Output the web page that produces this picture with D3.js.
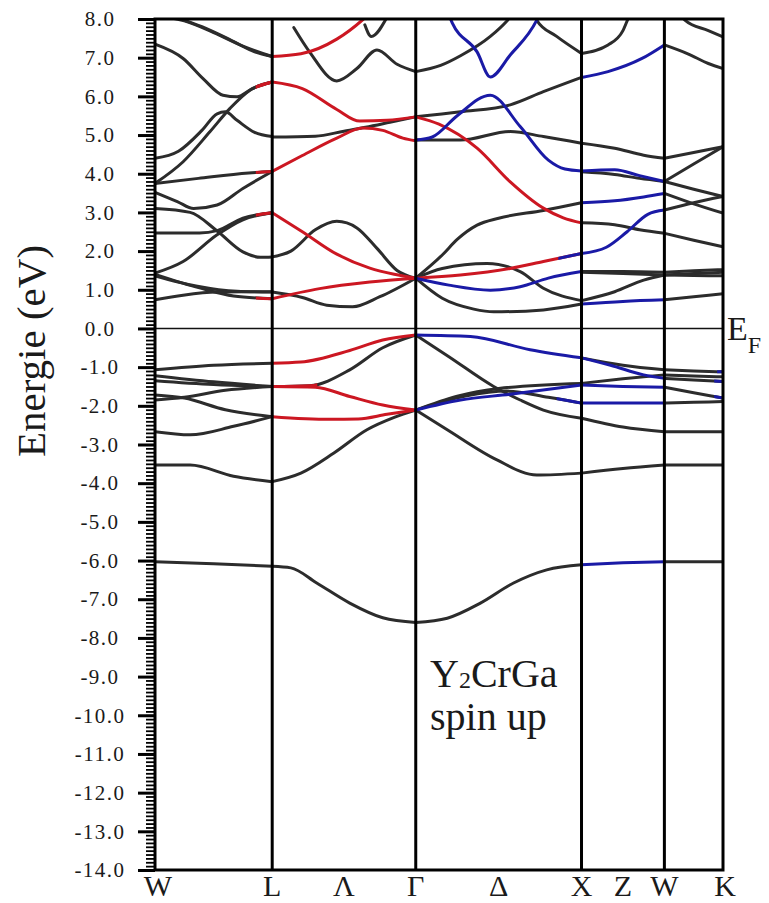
<!DOCTYPE html>
<html><head><meta charset="utf-8">
<script src="https://cdn.jsdelivr.net/npm/d3@7"></script>
<style>
html,body{margin:0;padding:0;background:#fff;}
svg{display:block;}
</style></head><body>
<svg id="chart" width="769" height="903"></svg>
<script>
// ---- k-path (high-symmetry points) ----
const kLabels = ["W", "L", "Λ", "Γ", "Δ", "X", "Z", "W", "K"];
const kLabelPos = [0, 0.7071, 1.1401, 1.5731, 2.0731, 2.5731, 2.8231, 3.0731, 3.4267];
const kNodes = [0, 0.7071, 1.5731, 2.5731, 3.0731, 3.4267]; // W L Γ X W K

// ---- energy axis ----
const energyDomain = [-14, 8];
const energyTicks = d3.range(-14, 9, 1);
const energyMinorTicks = d3.range(-140, 81, 1).map(i => i / 10);

// ---- bands: [colour, [[t within segment, E(eV)], ...], optional [t0, t1, colour]] ----
const bandsWL = [
  ["k", [[0,8.1],[0.25,7.95],[0.5,7.65],[0.75,7.3],[1,7.03]]],
  ["k", [[0.12,8.1],[0.4,7.8],[0.65,7.45],[0.85,7.15],[1,7.03]]],
  ["k", [[0,7.35],[0.24,6.98],[0.41,6.46],[0.58,6.03],[0.7,5.99],[0.83,6.2],[1,6.37]], [0.86,1,"r"]],
  ["k", [[0,3.75],[0.24,4.31],[0.47,5.09],[0.64,5.69],[0.81,6.16],[1,6.37]], [0.86,1,"r"]],
  ["k", [[0,4.4],[0.2,4.58],[0.4,5.12],[0.53,5.55],[0.6,5.6],[0.7,5.38],[0.85,5.07],[1,4.96]]],
  ["k", [[0,3.75],[0.37,3.88],[0.8,4.02],[1,4.06]], [0.86,1,"r"]],
  ["k", [[0,3.52],[0.19,3.28],[0.33,3.1],[0.53,3.19],[0.75,3.62],[1,4.06]]],
  ["k", [[0,3.1],[0.3,3.0],[0.53,2.52],[0.75,1.98],[0.9,1.84],[1,1.85]]],
  ["k", [[0,2.47],[0.38,2.47],[0.53,2.53],[0.75,2.85],[1,2.99]], [0.86,1,"r"]],
  ["k", [[0,1.43],[0.24,1.73],[0.53,2.42],[0.75,2.81],[1,2.99]]],
  ["k", [[0,1.4],[0.38,1.05],[0.67,0.84],[1,0.77]], [0.86,1,"r"]],
  ["k", [[0,1.36],[0.35,1.1],[0.7,0.96],[1,0.94]]],
  ["k", [[0,0.74],[0.24,0.86],[0.53,0.94],[1,0.95]]],
  ["k", [[0,-1.07],[0.5,-0.95],[1,-0.9]]],
  ["k", [[0,-1.22],[0.5,-1.38],[1,-1.5]]],
  ["k", [[0,-1.35],[0.5,-1.45],[1,-1.5]]],
  ["k", [[0,-1.85],[0.25,-1.78],[0.6,-1.6],[1,-1.5]]],
  ["k", [[0,-1.72],[0.25,-1.8],[0.6,-2.1],[1,-2.28]]],
  ["k", [[0,-2.67],[0.3,-2.75],[0.67,-2.53],[1,-2.28]]],
  ["k", [[0,-3.53],[0.3,-3.53],[0.67,-3.82],[1,-3.96]]],
  ["k", [[0,-6.03],[0.5,-6.08],[1,-6.15]]]
];

const bandsLG = [
  ["r", [[0,7.03],[0.2,7.1],[0.45,7.48],[0.63,7.98],[0.72,8.3]]],
  ["k", [[0.15,7.78],[0.26,7.15],[0.45,6.4],[0.59,6.72],[0.73,7.2],[0.87,6.83],[1,6.64]]],
  ["k", [[0.645,7.85],[0.69,7.55],[0.8,8.05]]],
  ["k", [[0,4.95],[0.3,4.97],[0.5,5.1],[0.65,5.2],[0.82,5.33],[1,5.47]]],
  ["r", [[0,6.37],[0.21,6.2],[0.45,5.66],[0.61,5.36],[0.8,5.38],[1,5.47]]],
  ["r", [[0,4.06],[0.21,4.47],[0.45,4.92],[0.63,5.18],[0.77,5.12],[0.91,4.92],[1,4.85]]],
  ["k", [[0,1.85],[0.13,2.0],[0.3,2.55],[0.45,2.77],[0.59,2.6],[0.73,2.07],[0.87,1.5],[1,1.3]]],
  ["k", [[0,0.94],[0.21,0.8],[0.38,0.6],[0.56,0.56],[0.75,0.82],[1,1.3]]],
  ["r", [[0,2.99],[0.21,2.5],[0.45,1.92],[0.68,1.56],[0.85,1.4],[1,1.3]]],
  ["r", [[0,0.77],[0.33,1.03],[0.68,1.2],[1,1.3]]],
  ["k", [[0,-1.5],[0.26,-1.48],[0.54,-1.07],[0.77,-0.5],[1,-0.17]], [0,0.3,"r"]],
  ["k", [[0,-3.96],[0.2,-3.74],[0.43,-3.22],[0.66,-2.62],[0.85,-2.3],[1,-2.11]]],
  ["k", [[0,-6.15],[0.13,-6.19],[0.31,-6.58],[0.54,-7.1],[0.77,-7.48],[1,-7.6]]],
  ["r", [[0,-0.9],[0.2,-0.87],[0.54,-0.57],[0.77,-0.3],[1,-0.17]]],
  ["r", [[0,-1.5],[0.3,-1.52],[0.54,-1.76],[0.77,-1.98],[1,-2.11]]],
  ["r", [[0,-2.28],[0.4,-2.35],[0.6,-2.34],[0.8,-2.22],[1,-2.11]]]
];

const bandsGX = [
  ["k", [[0,6.64],[0.15,6.8],[0.27,7.05],[0.45,7.55],[0.55,7.95],[0.6,8.2]]],
  ["k", [[0.72,8.05],[0.73,7.97],[0.85,7.55],[1,7.11]]],
  ["k", [[0,5.47],[0.27,5.6],[0.57,5.78],[0.77,6.12],[1,6.49]]],
  ["k", [[0,4.87],[0.27,4.87],[0.57,5.09],[0.77,4.96],[1,4.79]]],
  ["k", [[0,1.3],[0.16,1.9],[0.25,2.3],[0.37,2.67],[0.5,2.85],[0.77,3.05],[1,3.25]]],
  ["k", [[0,1.3],[0.16,1.55],[0.43,1.68],[0.63,1.47],[0.77,1.04],[1,0.72]]],
  ["k", [[0,1.3],[0.16,0.78],[0.35,0.5],[0.47,0.43],[0.77,0.48],[1,0.63]]],
  ["k", [[0,-0.17],[0.2,-0.73],[0.47,-1.5],[0.63,-1.85],[0.77,-2.11],[1,-2.32]]],
  ["k", [[0,-2.11],[0.25,-1.75],[0.5,-1.55],[1,-1.42]]],
  ["k", [[0,-2.11],[0.3,-1.75],[0.55,-1.62],[0.8,-1.78],[1,-1.93]], [0.85,1,"b"]],
  ["k", [[0,-2.11],[0.19,-2.62],[0.49,-3.4],[0.73,-3.79],[1,-3.74]]],
  ["k", [[0,-7.6],[0.19,-7.49],[0.39,-7.1],[0.59,-6.58],[0.79,-6.24],[1,-6.11]]],
  ["b", [[0.2,8.1],[0.22,7.9],[0.37,7.15],[0.45,6.5],[0.57,7.07],[0.73,7.97],[0.75,8.15]]],
  ["b", [[0,4.87],[0.1,4.95],[0.25,5.5],[0.45,6.03],[0.63,5.22],[0.8,4.35],[0.9,4.12],[1,4.07]]],
  ["r", [[0,5.47],[0.14,5.28],[0.37,4.66],[0.57,3.79],[0.77,3.11],[0.89,2.86],[1,2.73]]],
  ["r", [[0,1.3],[0.27,1.38],[0.57,1.55],[0.77,1.73],[1,1.94]], [0.86,1,"b"]],
  ["b", [[0,1.3],[0.2,1.12],[0.45,0.99],[0.63,1.08],[0.8,1.3],[1,1.47]]],
  ["b", [[0,-0.17],[0.33,-0.21],[0.69,-0.55],[1,-0.76]]],
  ["b", [[0,-2.11],[0.27,-1.85],[0.57,-1.7],[1,-1.46]]]
];

const bandsXW = [
  ["k", [[0,7.11],[0.32,7.33],[0.5,7.7],[0.56,8.0],[0.6,8.2]]],
  ["k", [[0,4.79],[0.4,4.66],[0.75,4.48],[1,4.4]]],
  ["k", [[0,4.05],[0.4,3.98],[0.7,3.88],[1,3.8]]],
  ["k", [[0,2.73],[0.4,2.68],[0.7,2.55],[1,2.46]]],
  ["k", [[0,1.47],[0.5,1.47],[1,1.45]]],
  ["k", [[0,1.45],[0.5,1.42],[1,1.38]]],
  ["k", [[0,0.72],[0.4,0.95],[0.75,1.25],[1,1.38]]],
  ["k", [[0,-0.76],[0.5,-0.95],[1,-1.07]]],
  ["k", [[0,-1.42],[0.5,-1.3],[1,-1.2]]],
  ["k", [[0,-2.32],[0.5,-2.55],[1,-2.67]]],
  ["k", [[0,-3.74],[0.5,-3.62],[1,-3.53]]],
  ["b", [[0,6.49],[0.32,6.64],[0.73,6.98],[1,7.33]]],
  ["b", [[0,4.07],[0.4,4.1],[0.7,3.95],[1,3.8]]],
  ["b", [[0,3.25],[0.4,3.3],[0.75,3.4],[1,3.49]]],
  ["b", [[0,1.94],[0.3,2.1],[0.55,2.5],[0.8,2.95],[1,3.06]]],
  ["b", [[0,0.63],[0.5,0.7],[1,0.74]]],
  ["b", [[0,-0.76],[0.35,-0.95],[0.75,-1.2],[1,-1.29]]],
  ["b", [[0,-1.46],[0.5,-1.5],[1,-1.52]]],
  ["b", [[0,-1.93],[0.5,-1.93],[1,-1.93]]],
  ["b", [[0,-6.11],[0.5,-6.06],[1,-6.03]]]
];

const bandsWK = [
  ["k", [[0,7.33],[0.4,7.1],[0.75,6.85],[1,6.72]]],
  ["k", [[0.3,8.05],[0.35,7.97],[0.75,7.7],[1,7.54]]],
  ["k", [[0,4.4],[0.5,4.55],[1,4.7]]],
  ["k", [[0,3.8],[0.5,4.25],[1,4.7]]],
  ["k", [[0,3.8],[0.5,3.6],[1,3.41]]],
  ["k", [[0,3.49],[0.5,3.22],[1,2.98]]],
  ["k", [[0,3.06],[0.5,3.25],[1,3.41]]],
  ["k", [[0,2.46],[0.5,2.28],[1,2.11]]],
  ["k", [[0,1.45],[0.5,1.49],[1,1.52]]],
  ["k", [[0,1.38],[0.5,1.37],[1,1.36]]],
  ["k", [[0,1.38],[0.5,1.42],[1,1.45]]],
  ["k", [[0,0.74],[0.5,0.82],[1,0.9]]],
  ["k", [[0,-1.07],[0.5,-1.1],[1,-1.12]], [0.9,1,"b"]],
  ["k", [[0,-1.2],[0.5,-1.23],[1,-1.25]]],
  ["k", [[0,-1.29],[0.5,-1.33],[1,-1.37]], [0.85,1,"b"]],
  ["k", [[0,-1.52],[0.5,-1.66],[1,-1.8]], [0.85,1,"b"]],
  ["k", [[0,-1.93],[0.5,-1.91],[1,-1.89]]],
  ["k", [[0,-2.67],[0.5,-2.67],[1,-2.67]]],
  ["k", [[0,-3.53],[0.5,-3.53],[1,-3.53]]],
  ["k", [[0,-6.03],[0.5,-6.03],[1,-6.03]]]
];

const segments = [bandsWL, bandsLG, bandsGX, bandsXW, bandsWK];
const bandColors = { k: "#2c2c2c", r: "#cc1722", b: "#1a1aa6" };

// ---- layout ----
const svg = d3.select("#chart");
const plot = { left: 155, right: 723, top: 19, bottom: 870 };
const x = d3.scaleLinear().domain([kNodes[0], kNodes[kNodes.length - 1]]).range([plot.left, plot.right]);
const y = d3.scaleLinear().domain(energyDomain).range([plot.bottom, plot.top]);
const serif = "'Liberation Serif', Tinos, 'Times New Roman', Times, 'DejaVu Serif', serif";
const defs = svg.append("defs");
defs.append("clipPath").attr("id", "plotclip").append("rect")
  .attr("x", plot.left).attr("y", plot.top)
  .attr("width", plot.right - plot.left).attr("height", plot.bottom - plot.top);

// Fermi level
svg.append("line")
  .attr("x1", plot.left).attr("x2", plot.right)
  .attr("y1", y(0)).attr("y2", y(0))
  .attr("stroke", "#111").attr("stroke-width", 1.5);

// bands
const line = d3.line().curve(d3.curveMonotoneX);
const bandG = svg.append("g").attr("clip-path", "url(#plotclip)");
const order = ["k", "r", "b"];
const hlList = [];
order.forEach(col => {
  segments.forEach((bands, si) => {
    const k0 = kNodes[si], k1 = kNodes[si + 1];
    bands.forEach((b, bi) => {
      if (b[0] !== col) return;
      const pts = b[1].map(([t, e]) => [x(k0 + t * (k1 - k0)), y(e)]);
      const d = line(pts);
      bandG.append("path").attr("d", d)
        .attr("fill", "none").attr("stroke", bandColors[col])
        .attr("stroke-width", 3).attr("stroke-linecap", "round");
      if (b[2]) hlList.push({ d, si, bi, k0, k1, hl: b[2] });
    });
  });
});
hlList.forEach(h => {
  const id = `hl_${h.si}_${h.bi}`;
  const xa = x(h.k0 + h.hl[0] * (h.k1 - h.k0));
  const xb = x(h.k0 + h.hl[1] * (h.k1 - h.k0));
  defs.append("clipPath").attr("id", id).append("rect")
    .attr("x", xa).attr("y", 0).attr("width", xb - xa + 2).attr("height", 903);
  bandG.append("g").attr("clip-path", `url(#${id})`)
    .append("path").attr("d", h.d)
    .attr("fill", "none").attr("stroke", bandColors[h.hl[2]])
    .attr("stroke-width", 3);
});

// vertical symmetry lines
svg.append("g").selectAll("line").data(kNodes.slice(1, -1)).join("line")
  .attr("x1", d => x(d)).attr("x2", d => x(d))
  .attr("y1", plot.top).attr("y2", plot.bottom)
  .attr("stroke", "#000").attr("stroke-width", 3);

// frame
svg.append("rect")
  .attr("x", plot.left).attr("y", plot.top)
  .attr("width", plot.right - plot.left).attr("height", plot.bottom - plot.top)
  .attr("fill", "none").attr("stroke", "#000").attr("stroke-width", 3);

// y axis: minor and major ticks
const minorAxis = d3.axisLeft(y).tickValues(energyMinorTicks).tickSize(9).tickFormat("");
const gMinor = svg.append("g").attr("transform", `translate(${plot.left},0)`).call(minorAxis);
gMinor.select(".domain").remove();
gMinor.selectAll(".tick line").attr("stroke", "#000").attr("stroke-width", 1.8);

const majorAxis = d3.axisLeft(y).tickValues(energyTicks).tickSize(17).tickFormat(d => d.toFixed(1));
const gMajor = svg.append("g").attr("transform", `translate(${plot.left},0)`).call(majorAxis);
gMajor.attr("font-family", null).attr("font-size", null);
gMajor.select(".domain").remove();
gMajor.selectAll(".tick line").attr("stroke", "#000").attr("stroke-width", 3);
gMajor.selectAll(".tick text")
  .attr("x", -55).attr("text-anchor", "middle")
  .attr("fill", "#1a1a1a")
  .attr("font-family", serif)
  .style("font-family", serif).style("font-size", "21px").style("letter-spacing", "1.5px");

// y title
svg.append("text")
  .attr("transform", `translate(45,351) rotate(-90)`)
  .attr("text-anchor", "middle")
  .attr("fill", "#1a1a1a")
  .style("font-family", serif).style("font-size", "41px")
  .text("Energie (eV)");

// k labels
svg.append("g").selectAll("text").data(kLabels).join("text")
  .attr("x", (d, i) => x(kLabelPos[i]) + (i === 0 ? 3 : i === kLabels.length - 1 ? 2 : 0))
  .attr("y", 896)
  .attr("text-anchor", "middle")
  .attr("fill", "#1a1a1a")
  .style("font-family", serif).style("font-size", "30px")
  .text(d => d);

// E_F label
const ef = svg.append("text").attr("x", 727).attr("y", 340)
  .attr("fill", "#1a1a1a").style("font-family", serif).style("font-size", "34px");
ef.append("tspan").text("E");
ef.append("tspan").attr("dy", 13).style("font-size", "24px").text("F");

// annotation
const ann = svg.append("text").attr("x", 430).attr("y", 687)
  .attr("fill", "#1a1a1a").style("font-family", serif).style("font-size", "40px");
ann.append("tspan").text("Y");
ann.append("tspan").attr("dy", 1).style("font-size", "24px").text("2");
ann.append("tspan").attr("dy", -1).text("CrGa");
svg.append("text").attr("x", 430).attr("y", 730)
  .attr("fill", "#1a1a1a").style("font-family", serif).style("font-size", "40px")
  .text("spin up");
</script>
</body></html>
